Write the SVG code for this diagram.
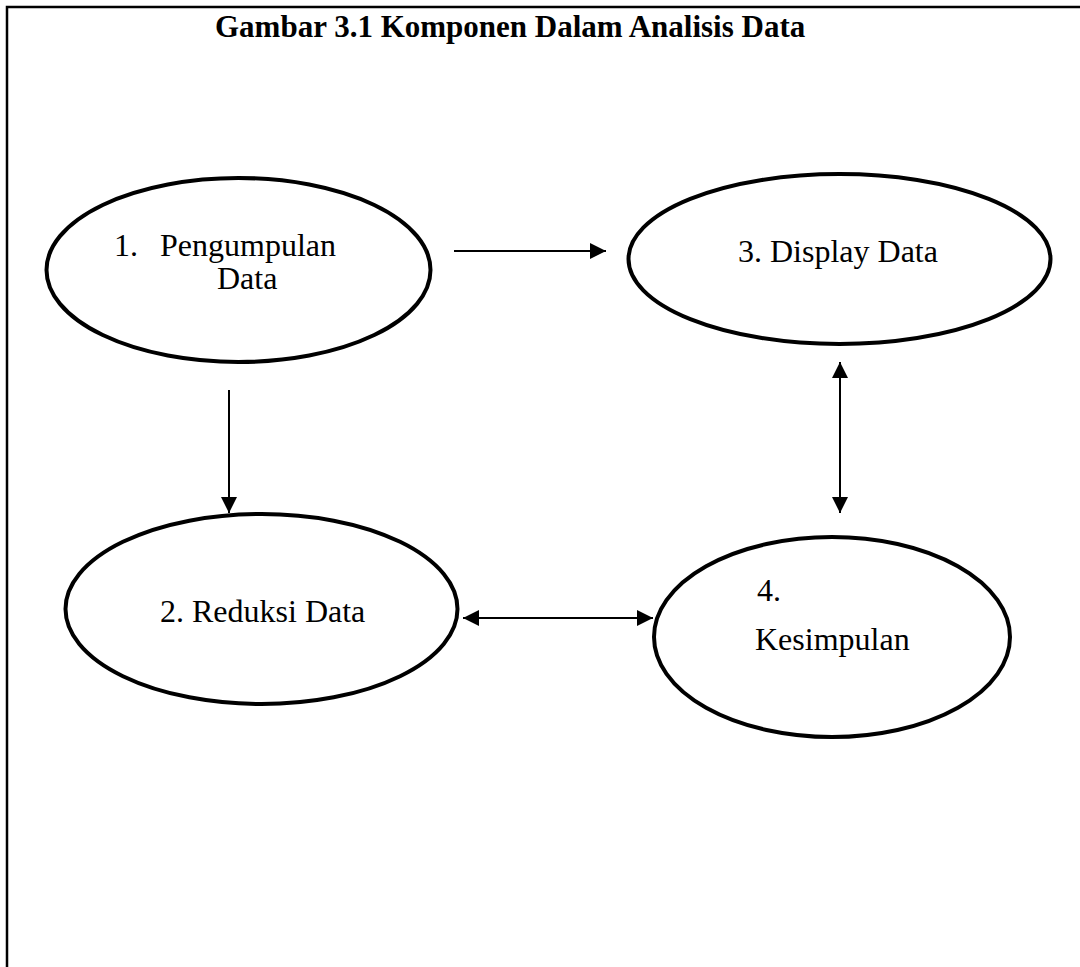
<svg xmlns="http://www.w3.org/2000/svg" width="1080" height="967" viewBox="0 0 1080 967">
<style>
.node{fill:#fff;stroke:#000;stroke-width:4}
.lbl{font-family:"Liberation Serif","Times New Roman",serif;font-size:32px;fill:#000}
.title{font-family:"Liberation Serif","Times New Roman",serif;font-size:31px;font-weight:bold;fill:#000}
.conn{stroke:#000;stroke-width:2;fill:none}
.frame{stroke:#000;stroke-width:2.5;fill:none}
</style>
<defs>
<marker id="ah" markerUnits="userSpaceOnUse" markerWidth="16" markerHeight="16" viewBox="0 0 16 16" refX="16" refY="8" orient="auto-start-reverse">
<path d="M0,0 L16,8 L0,16 Z" fill="#000"/>
</marker>
</defs>
<rect width="1080" height="967" fill="#fff"/>
<path class="frame" d="M7,967 L7,7 L1080,7"/>
<text class="title" x="215" y="37">Gambar 3.1 Komponen Dalam Analisis Data</text>
<g id="connectors">
<line class="conn" x1="454" y1="251" x2="606" y2="251" marker-end="url(#ah)"/>
<line class="conn" x1="229" y1="390" x2="229" y2="513" marker-end="url(#ah)"/>
<line class="conn" x1="463" y1="618" x2="653" y2="618" marker-start="url(#ah)" marker-end="url(#ah)"/>
<line class="conn" x1="840" y1="362" x2="840" y2="513" marker-start="url(#ah)" marker-end="url(#ah)"/>
</g>
<g id="node1">
<ellipse class="node" cx="238.5" cy="270" rx="192" ry="92"/>
<text class="lbl" x="114" y="256">1.</text>
<text class="lbl" x="160" y="256">Pengumpulan</text>
<text class="lbl" x="217" y="289">Data</text>
</g>
<g id="node2">
<ellipse class="node" cx="261.5" cy="609" rx="196" ry="95"/>
<text class="lbl" x="160" y="622">2. Reduksi Data</text>
</g>
<g id="node3">
<ellipse class="node" cx="839.5" cy="259" rx="211" ry="85"/>
<text class="lbl" x="738" y="262">3. Display Data</text>
</g>
<g id="node4">
<ellipse class="node" cx="832" cy="637" rx="178" ry="100"/>
<text class="lbl" x="757" y="601">4.</text>
<text class="lbl" x="755" y="650">Kesimpulan</text>
</g>
</svg>
